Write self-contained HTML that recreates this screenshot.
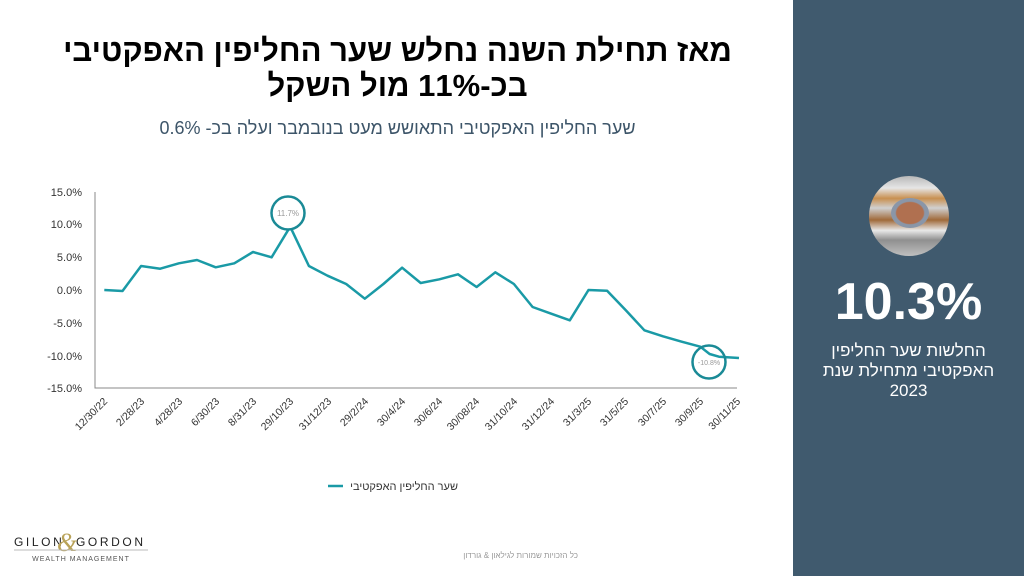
<!DOCTYPE html>
<html><head><meta charset="utf-8"><style>
html,body{margin:0;padding:0;width:1024px;height:576px;overflow:hidden;background:#fff;font-family:"Liberation Sans","Noto Sans CJK SC",sans-serif}
.t{position:absolute;left:40px;width:715px;text-align:center;direction:rtl;color:#000;font-weight:bold;font-size:31px;line-height:35px}
</style></head><body>
<div class="t" style="top:33px">מאז תחילת השנה נחלש שער החליפין האפקטיבי<br>בכ-11% מול השקל</div>
<div style="position:absolute;left:40px;width:715px;top:118px;text-align:center;direction:rtl;color:#3d5569;font-size:18px">שער החליפין האפקטיבי התאושש מעט בנובמבר ועלה בכ- 0.6%</div>
<div style="position:absolute;left:793px;top:0;width:231px;height:576px;background:#405a6e"></div>
<div style="position:absolute;left:869px;top:176px;width:80px;height:80px;border-radius:50%;overflow:hidden;background:linear-gradient(180deg,#b8b8b8 0%,#e6e6e6 15%,#c89050 28%,#d0d0d0 40%,#a06a3a 55%,#e8e8e8 68%,#909090 80%,#c0c0c0 100%)">
<div style="position:absolute;left:22px;top:22px;width:38px;height:30px;border-radius:50%;background:radial-gradient(#b07050 0 50%,#8a96a8 55% 70%,#d8d8d8 75%)"></div></div>
<div style="position:absolute;left:793px;width:231px;top:272px;text-align:center;color:#fff;font-weight:bold;font-size:52px">10.3%</div>
<div style="position:absolute;left:793px;width:231px;top:341px;text-align:center;color:#fff;font-size:17px;line-height:20px;direction:rtl">החלשות שער החליפין<br>האפקטיבי מתחילת שנת<br>2023</div>
<svg width="793" height="576" style="position:absolute;left:0;top:0" font-family="Liberation Sans, sans-serif">
<g font-size="11" fill="#333" text-anchor="end">
<text x="82" y="196">15.0%</text><text x="82" y="228">10.0%</text><text x="82" y="261">5.0%</text><text x="82" y="294">0.0%</text><text x="82" y="327">-5.0%</text><text x="82" y="360">-10.0%</text><text x="82" y="392">-15.0%</text>
</g>
<polyline points="95,192 95,388 737,388" fill="none" stroke="#888" stroke-width="1"/>
<polyline fill="none" stroke="#1a9aa6" stroke-width="2.5" stroke-linejoin="round" points="104.3,290 122.5,291 141.1,266 160.2,268.7 178.9,263.3 197,260 215.7,267.3 234.3,263.3 253,252 271.6,257.3 290.2,226.7 308.9,266 327.5,275.7 346.2,284 364.8,298.7 383.4,284 402.1,267.7 420.7,283 439.4,279.3 458,274.3 476.6,287 495.3,272.3 513.9,284 532.6,307 551.2,313.7 569.8,320.3 588.5,290 607.1,290.7 625.8,310.3 644.4,330.3 663,336.3 681.7,341.7 700.3,346.7 709.6,354 719,356.7 739,358"/>
<circle cx="288" cy="213" r="16.5" fill="#fff" stroke="#1a8a96" stroke-width="2.5"/>
<text x="288" y="216" font-size="8" fill="#999" text-anchor="middle">11.7%</text>
<circle cx="709" cy="362" r="16.5" fill="none" stroke="#1a8a96" stroke-width="2.5"/>
<text x="709" y="365" font-size="7" fill="#999" text-anchor="middle">-10.8%</text>
<g font-size="10.5" fill="#333" text-anchor="end">
<text transform="translate(108,402) rotate(-45)">12/30/22</text>
<text transform="translate(145,402) rotate(-45)">2/28/23</text>
<text transform="translate(183,402) rotate(-45)">4/28/23</text>
<text transform="translate(220,402) rotate(-45)">6/30/23</text>
<text transform="translate(257,402) rotate(-45)">8/31/23</text>
<text transform="translate(294,402) rotate(-45)">29/10/23</text>
<text transform="translate(332,402) rotate(-45)">31/12/23</text>
<text transform="translate(369,402) rotate(-45)">29/2/24</text>
<text transform="translate(406,402) rotate(-45)">30/4/24</text>
<text transform="translate(443,402) rotate(-45)">30/6/24</text>
<text transform="translate(480,402) rotate(-45)">30/08/24</text>
<text transform="translate(518,402) rotate(-45)">31/10/24</text>
<text transform="translate(555,402) rotate(-45)">31/12/24</text>
<text transform="translate(592,402) rotate(-45)">31/3/25</text>
<text transform="translate(629,402) rotate(-45)">31/5/25</text>
<text transform="translate(667,402) rotate(-45)">30/7/25</text>
<text transform="translate(704,402) rotate(-45)">30/9/25</text>
<text transform="translate(741,402) rotate(-45)">30/11/25</text>
</g>
<line x1="328" y1="486" x2="343" y2="486" stroke="#1a9aa6" stroke-width="2.5"/>
<text x="458" y="490" font-size="11" fill="#333" text-anchor="start" direction="rtl">שער החליפין האפקטיבי</text>
<g fill="#222" font-size="12" letter-spacing="2.6">
<text x="14" y="546">GILON</text><text x="76" y="546">GORDON</text></g>
<text x="57" y="551" font-size="26" fill="#b9a35a" font-family="Liberation Serif, serif" font-style="italic">&amp;</text>
<line x1="14" y1="550" x2="148" y2="550" stroke="#bbb" stroke-width="1"/>
<text x="81" y="561" font-size="7" fill="#555" text-anchor="middle" letter-spacing="1">WEALTH MANAGEMENT</text>
<text x="578" y="558" font-size="8" fill="#999" text-anchor="start" direction="rtl">כל הזכויות שמורות לגילאון &amp; גורדון</text>
</svg>
</body></html>
